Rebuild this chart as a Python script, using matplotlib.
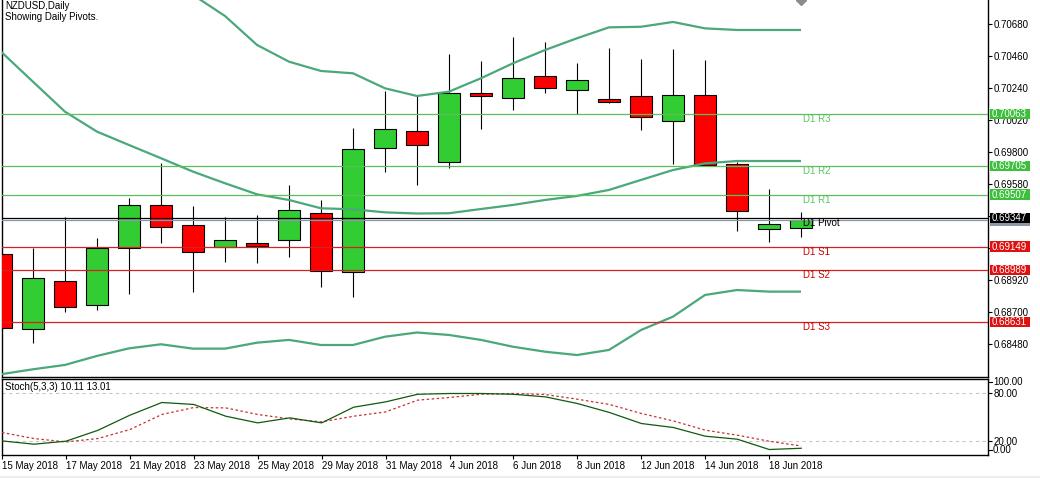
import matplotlib
matplotlib.use('Agg')
import matplotlib.pyplot as plt
import matplotlib.transforms as mtransforms
from matplotlib.patches import Rectangle

plt.rcParams['font.family'] = ['Liberation Sans', 'DejaVu Sans']

# ---------------- data ----------------
dates = ['15 May 2018', '16 May 2018', '17 May 2018', '18 May 2018', '21 May 2018',
         '22 May 2018', '23 May 2018', '24 May 2018', '25 May 2018', '28 May 2018',
         '29 May 2018', '30 May 2018', '31 May 2018', '1 Jun 2018', '4 Jun 2018',
         '5 Jun 2018', '6 Jun 2018', '7 Jun 2018', '8 Jun 2018', '11 Jun 2018',
         '12 Jun 2018', '13 Jun 2018', '14 Jun 2018', '15 Jun 2018', '18 Jun 2018',
         '19 Jun 2018']

opens = [0.69099, 0.68581, 0.68913, 0.68746, 0.69138, 0.69436, 0.69298, 0.69147, 0.69174,
         0.69193, 0.69379, 0.68973, 0.69825, 0.69942, 0.69729, 0.70204, 0.70169, 0.70320,
         0.70224, 0.70164, 0.70183, 0.70011, 0.70190, 0.69715, 0.69269, 0.69275]
highs = [0.69130, 0.69142, 0.69355, 0.69211, 0.69486, 0.69724, 0.69431, 0.69353, 0.69369,
         0.69575, 0.69470, 0.69967, 0.70219, 0.70183, 0.70476, 0.70426, 0.70593, 0.70556,
         0.70412, 0.70515, 0.70439, 0.70508, 0.70433, 0.69733, 0.69544, 0.69385]
lows = [0.68560, 0.68489, 0.68698, 0.68712, 0.68822, 0.69176, 0.68835, 0.69046, 0.69039,
        0.69080, 0.68874, 0.68805, 0.69665, 0.69575, 0.69692, 0.69960, 0.70091, 0.70208,
        0.70061, 0.70135, 0.69949, 0.69720, 0.69702, 0.69259, 0.69183, 0.69218]
closes = [0.68590, 0.68932, 0.68732, 0.69142, 0.69436, 0.69282, 0.69110, 0.69195, 0.69152,
          0.69399, 0.68982, 0.69819, 0.69958, 0.69846, 0.70206, 0.70183, 0.70307, 0.70238,
          0.70293, 0.70142, 0.70039, 0.70190, 0.69709, 0.69392, 0.69303, 0.69333]

bb_upper = [0.72708, 0.72260, 0.71818, 0.71482, 0.71246, 0.71036, 0.70880, 0.70735, 0.70536,
            0.70421, 0.70357, 0.70341, 0.70238, 0.70185, 0.70215, 0.70307, 0.70410, 0.70501,
            0.70582, 0.70657, 0.70661, 0.70694, 0.70650, 0.70639, 0.70639, 0.70639]
bb_middle = [0.70490, 0.70283, 0.70077, 0.69940, 0.69848, 0.69757, 0.69665, 0.69585, 0.69509,
             0.69470, 0.69413, 0.69406, 0.69385, 0.69377, 0.69379, 0.69408, 0.69436, 0.69470,
             0.69498, 0.69539, 0.69608, 0.69676, 0.69722, 0.69738, 0.69738, 0.69738]
bb_lower = [0.68272, 0.68306, 0.68336, 0.68398, 0.68450, 0.68478, 0.68448, 0.68448, 0.68489,
            0.68508, 0.68473, 0.68473, 0.68530, 0.68559, 0.68542, 0.68508, 0.68461, 0.68427,
            0.68404, 0.68439, 0.68576, 0.68668, 0.68817, 0.68851, 0.68840, 0.68840]

stoch_k = [19.5, 15.3, 19.1, 33.0, 52.3, 68.5, 66.0, 51.0, 42.5, 48.9, 42.5, 62.5, 69.3,
           79.0, 80.0, 80.0, 79.0, 75.7, 67.2, 55.8, 41.7, 36.6, 25.5, 21.7, 8.5, 10.11]
stoch_d = [30.2, 22.5, 18.2, 22.5, 34.0, 53.2, 62.1, 61.6, 53.2, 47.6, 43.8, 51.0, 56.5,
           71.5, 74.9, 79.1, 80.0, 78.7, 72.7, 66.0, 54.5, 45.0, 33.2, 26.8, 19.1, 13.01]

pivot_names = ['D1 R3', 'D1 R2', 'D1 R1', 'D1 Pivot', 'D1 S1', 'D1 S2', 'D1 S3']
pivot_values = [0.70063, 0.69705, 0.69507, 0.69347, 0.69149, 0.68989, 0.68631]
bid_price = 0.69333

price_ticks = [0.70680, 0.70460, 0.70240, 0.70020, 0.69800, 0.69580, 0.69360, 0.69140,
               0.68920, 0.68700, 0.68480]
hidden_price_ticks = [0.69360, 0.69140]   # covered by the pivot price boxes
stoch_levels = [80, 20]

# ---------------- styles ----------------
UP = '#32CD32'
DOWN = '#FF0000'
BAND = '#4aa87a'
R_LINE = '#5cbf5c'
S_LINE = '#d42020'
R_TXT = '#5cc45c'
S_TXT = '#cc0000'
FS = 7

W, H = 1040, 478
fig = plt.figure(figsize=(W / 100, H / 100), dpi=100)
fig.patch.set_facecolor('white')

left_px, right_px = 2, 988
main_top, main_bot = 0, 377
st_top, st_bot = 379, 455
ax = fig.add_axes([left_px / W, (H - main_bot) / H, (right_px - left_px) / W, (main_bot - main_top) / H])
ax2 = fig.add_axes([left_px / W, (H - st_bot) / H, (right_px - left_px) / W, (st_bot - st_top) / H])

n = len(dates)
x = list(range(n))
xlim = ((left_px - 1) / 32, (right_px - 1) / 32)

# candles
for i in x:
    o, h, l, c = opens[i], highs[i], lows[i], closes[i]
    col = UP if c >= o else DOWN
    ax.vlines(i, l, h, color='black', lw=0.8, zorder=2)
    ax.bar(i, abs(c - o), bottom=min(o, c), width=0.69, color=col,
           edgecolor='black', linewidth=0.8, zorder=3)

# bollinger bands
for band in (bb_upper, bb_middle, bb_lower):
    ax.plot(x, band, color=BAND, lw=1.6, zorder=4, solid_capstyle='butt')

# pivot lines
blend = mtransforms.blended_transform_factory(ax.transAxes, ax.transData)
box_x = 1.0 + 2 / 986
box_w = 40 / 986
for name, val in zip(pivot_names, pivot_values):
    kind = name.split()[1]
    if kind.startswith('R'):
        lc, tc, bc = R_LINE, R_TXT, '#3cc03c'
    elif kind.startswith('S'):
        lc, tc, bc = S_LINE, S_TXT, '#e01010'
    else:
        lc, tc, bc = 'black', 'black', 'black'
    ax.axhline(val, color=lc, lw=0.9, zorder=5)
    ax.text(25.06, val, name, color=tc, fontsize=FS, va='top', ha='left', zorder=6)
    if kind == 'Pivot':
        ax.axhline(bid_price, color='#8a97a6', lw=0.9, zorder=5)
        ax.add_patch(Rectangle((box_x, bid_price - 0.00040), box_w, 0.00050,
                               transform=blend, facecolor='#8a97a6', edgecolor='none',
                               clip_on=False, zorder=6))
    ax.add_patch(Rectangle((box_x, val - 0.00036), box_w, 0.00072, transform=blend,
                           facecolor=bc, edgecolor='none', clip_on=False, zorder=7))
    ax.text(box_x + 2 / 986, val, f'{val:.5f}', transform=blend, color='white',
            fontsize=FS, va='center', ha='left', clip_on=False, zorder=8)

ax.set_xlim(*xlim)
ax.set_ylim(0.68253, 0.70845)
ax.yaxis.tick_right()
ax.set_yticks(price_ticks)
ax.set_yticklabels(['' if t in hidden_price_ticks else f'{t:.5f}' for t in price_ticks])
ax.tick_params(axis='y', direction='out', length=3, width=0.8, pad=1, labelsize=FS, colors='black')
ax.set_xticks([])
ax.spines['top'].set_visible(False)
for s in ('left', 'right', 'bottom'):
    ax.spines[s].set_linewidth(1.0)

ax.text(3 / 986, 1 - 6 / 377, 'NZDUSD,Daily', transform=ax.transAxes, fontsize=FS,
        va='center', ha='left')
ax.text(3 / 986, 1 - 16.5 / 377, 'Showing Daily Pivots.', transform=ax.transAxes,
        fontsize=FS, va='center', ha='left')
ax.plot([25], [1.0], marker='D', ms=5, color='#8c8c8c',
        transform=mtransforms.blended_transform_factory(ax.transData, ax.transAxes),
        clip_on=False, zorder=8)

# stochastic
for lv in stoch_levels:
    ax2.axhline(lv, color='#c8c8c8', lw=0.8, ls=(0, (3, 3)), zorder=1)
ax2.plot(x, stoch_d, color='#c83030', lw=0.9, ls=(0, (2, 2)), zorder=3)
ax2.plot(x, stoch_k, color='#0f5a0f', lw=0.9, zorder=4)
ax2.set_xlim(*xlim)
ax2.set_ylim(1.5, 98.5)
ax2.yaxis.tick_right()
ax2.set_yticks(stoch_levels)
ax2.set_yticklabels([f'{v:.2f}' for v in stoch_levels])
ax2.tick_params(axis='y', direction='out', length=3, width=0.8, pad=1, labelsize=FS)
tr2 = ax2.transAxes
for label, yf in (('100.00', 1 - 3 / 76), ('0.00', 5 / 76)):
    ax2.plot([1.0, 1.0 + 4 / 986], [yf, yf], color='black', lw=0.8, transform=tr2, clip_on=False)
    ax2.text(1.0 + 5 / 986, yf, label, transform=tr2, fontsize=FS, va='center', ha='left',
             clip_on=False)
ax2.set_xticks(x[::2])
ax2.set_xticklabels(dates[::2], ha='left')
ax2.tick_params(axis='x', direction='out', length=3, width=0.8, pad=1.5, labelsize=FS)
for s in ('left', 'right', 'bottom', 'top'):
    ax2.spines[s].set_linewidth(1.0)
ax2.text(3 / 986, 1 - 8.5 / 76, 'Stoch(5,3,3) 10.11 13.01', transform=ax2.transAxes,
         fontsize=FS, va='center', ha='left')

fig.patches.append(Rectangle((0, 0), 1, 2 / H, transform=fig.transFigure,
                             facecolor='#ececec', edgecolor='none'))

fig.savefig('out.png', dpi=100)
